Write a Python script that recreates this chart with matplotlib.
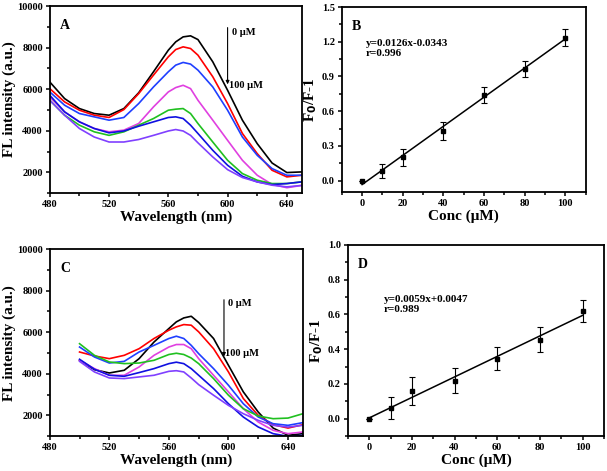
import numpy as np
import matplotlib.pyplot as plt
from matplotlib.ticker import MultipleLocator

plt.rcParams['font.family'] = ['Liberation Serif', 'DejaVu Serif']
plt.rcParams['font.weight'] = 'bold'
plt.rcParams['axes.labelweight'] = 'bold'

# ---- spectra (panel A, 480-650 nm) ----
wl_a = [480, 490, 500, 510, 520, 530, 540, 550, 560, 565, 570, 575, 580, 590, 600, 610, 620, 630, 640, 650]
a_0 = [6350, 5550, 5070, 4830, 4750, 5070, 5830, 6840, 7880, 8280, 8520, 8570, 8390, 7320, 5950, 4510, 3380, 2450, 1990, 2020]
a_10 = [6030, 5390, 4990, 4750, 4640, 5020, 5790, 6680, 7560, 7910, 8040, 7960, 7640, 6600, 5310, 3870, 2900, 2100, 1780, 1860]
a_20 = [5870, 5230, 4830, 4670, 4510, 4640, 5310, 6110, 6840, 7160, 7290, 7210, 6920, 6110, 4990, 3700, 2820, 2180, 1860, 1860]
a_40 = [5630, 4910, 4430, 4110, 3950, 4030, 4350, 5150, 5870, 6080, 6190, 6030, 5470, 4510, 3540, 2580, 1860, 1420, 1260, 1370]
a_60 = [5470, 4750, 4270, 3950, 3780, 3950, 4270, 4590, 4990, 5040, 5070, 4830, 4350, 3460, 2580, 1940, 1620, 1460, 1460, 1540]
a_80 = [5710, 4910, 4430, 4110, 3900, 3990, 4220, 4430, 4640, 4670, 4590, 4270, 3870, 3060, 2340, 1810, 1540, 1410, 1460, 1540]
a_100 = [5470, 4750, 4110, 3700, 3460, 3460, 3580, 3780, 3990, 4060, 3990, 3780, 3420, 2740, 2130, 1750, 1540, 1380, 1300, 1370]

# ---- spectra (panel C, 500-650 nm) ----
wl_c = [500, 510, 520, 530, 540, 550, 560, 565, 570, 575, 580, 590, 600, 610, 620, 630, 640, 650]
c_0 = [4650, 4200, 4040, 4170, 4730, 5530, 6180, 6500, 6690, 6770, 6470, 5700, 4410, 3130, 2160, 1390, 1040, 1120]
c_10 = [5050, 4860, 4730, 4890, 5210, 5700, 6100, 6260, 6370, 6340, 6020, 5210, 4090, 2810, 2000, 1550, 1390, 1550]
c_20 = [5290, 4810, 4520, 4600, 5050, 5370, 5700, 5810, 5700, 5370, 4970, 4250, 3450, 2560, 1920, 1600, 1520, 1650]
c_40 = [4650, 4250, 3930, 3930, 4330, 4890, 5290, 5410, 5410, 5210, 4730, 3930, 3130, 2320, 1680, 1280, 1120, 1200]
c_60 = [5450, 4890, 4570, 4490, 4520, 4650, 4930, 4990, 4930, 4760, 4490, 3770, 2970, 2320, 1970, 1840, 1870, 2080]
c_80 = [4700, 4220, 3930, 3880, 4060, 4250, 4490, 4560, 4490, 4250, 3930, 3290, 2560, 1920, 1440, 1120, 990, 1040]
c_100 = [4600, 4090, 3800, 3770, 3850, 3930, 4120, 4150, 4090, 3800, 3480, 2970, 2480, 2080, 1760, 1520, 1440, 1520]

curve_colors = ['black', '#ff0000', '#1f3fff', '#e040e0', '#20c020', '#1010e0', '#8040ff']

# ---- calibration data ----
conc = [0, 10, 20, 40, 60, 80, 100]
b_val = [0.0, 0.085, 0.20, 0.43, 0.74, 0.965, 1.235]
b_err = [0.0, 0.06, 0.075, 0.08, 0.07, 0.07, 0.075]
d_val = [0.0, 0.06, 0.16, 0.22, 0.345, 0.455, 0.62]
d_err = [0.0, 0.063, 0.08, 0.07, 0.065, 0.07, 0.065]
b_fit = (0.0126, -0.0343)
d_fit = (0.0059, 0.0047)
letter_r = {'B': '0.996', 'D': '0.989'}

fig = plt.figure(figsize=(6.07, 4.71), dpi=100)
axA = fig.add_axes([0.082, 0.590, 0.415, 0.397])
axB = fig.add_axes([0.563, 0.592, 0.402, 0.393])
axC = fig.add_axes([0.082, 0.074, 0.417, 0.397])
axD = fig.add_axes([0.573, 0.074, 0.422, 0.406])


def style(ax):
    for s in ax.spines.values():
        s.set_linewidth(1.3)
    ax.tick_params(which='both', direction='out', top=False, right=False, width=1.1, labelsize=7.5, pad=2)
    ax.tick_params(which='major', length=3)
    ax.tick_params(which='minor', length=2)
    for lab in ax.get_xticklabels() + ax.get_yticklabels():
        lab.set_fontweight('bold')


def spectra(ax, wl, curves, letter, arrow_x, arrow_top, arrow_bot, t0, t100):
    for y, c in zip(curves, curve_colors):
        ax.plot(wl, y, color=c, lw=1.2)
    ax.set_xlim(480, 650)
    ax.set_ylim(1000, 10000)
    ax.xaxis.set_major_locator(MultipleLocator(40))
    ax.xaxis.set_minor_locator(MultipleLocator(20))
    ax.yaxis.set_minor_locator(MultipleLocator(1000))
    ax.set_yticks([2000, 4000, 6000, 8000, 10000])
    ax.set_xlabel('Wavelength (nm)', fontsize=11, labelpad=1)
    ax.set_ylabel('FL intensity (a.u.)', fontsize=11, labelpad=1)
    ax.text(0.04, 0.93, letter, transform=ax.transAxes, fontsize=10, fontweight='bold', va='top')
    ax.annotate('', xy=(arrow_x, arrow_bot), xytext=(arrow_x, arrow_top),
                arrowprops=dict(arrowstyle='-|>', color='black', lw=0.8, mutation_scale=5))
    ax.text(arrow_x + 3, t0, '0 μM', fontsize=7.5, fontweight='bold', va='center')
    ax.text(arrow_x + 1, t100, '100 μM', fontsize=7.5, fontweight='bold', va='center')
    style(ax)


def calib(ax, val, err, fit, letter, ymax, ystep, eq_pos):
    xs = np.array([0, 100])
    ax.plot(xs, fit[0] * xs + fit[1], color='black', lw=1.1)
    ax.errorbar(conc, val, yerr=err, fmt='s', color='black', ms=3, capsize=2, elinewidth=0.8, capthick=0.8)
    ax.set_xlim(-10, 110)
    ax.xaxis.set_major_locator(MultipleLocator(20))
    ax.xaxis.set_minor_locator(MultipleLocator(10))
    ax.yaxis.set_major_locator(MultipleLocator(ystep))
    ax.yaxis.set_minor_locator(MultipleLocator(ystep / 2))
    ax.set_ylim(-0.1, ymax)
    ax.set_xlabel('Conc (μM)', fontsize=11, labelpad=1)
    ax.set_ylabel('F$_\\mathbf{0}$/F-1', fontsize=11, labelpad=2)
    ax.text(0.04, 0.93, letter, transform=ax.transAxes, fontsize=10, fontweight='bold', va='top')
    sign = '-' if fit[1] < 0 else '+'
    ax.text(eq_pos[0], eq_pos[1], 'y=%.4fx%s%.4f\nr=%s' % (fit[0], sign, abs(fit[1]), letter_r[letter]),
            transform=ax.transAxes, fontsize=8, fontweight='bold', va='top', linespacing=1.2)
    style(ax)


spectra(axA, wl_a, [a_0, a_10, a_20, a_40, a_60, a_80, a_100], 'A', 600, 9100, 6100, 8750, 6200)
spectra(axC, wl_c, [c_0, c_10, c_20, c_40, c_60, c_80, c_100], 'C', 597, 7700, 4700, 7380, 4970)
calib(axB, b_val, b_err, b_fit, 'B', 1.5, 0.3, (0.1, 0.83))
calib(axD, d_val, d_err, d_fit, 'D', 1.0, 0.2, (0.14, 0.74))

fig.savefig('out.png', dpi=100)
